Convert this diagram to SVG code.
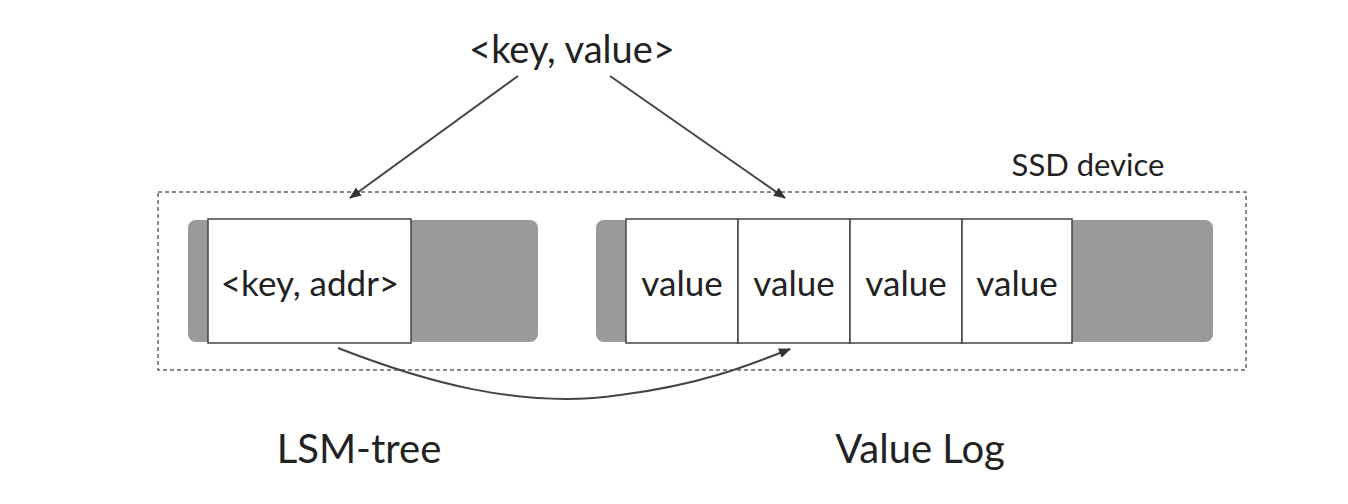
<svg xmlns="http://www.w3.org/2000/svg" width="1348" height="504" viewBox="0 0 1348 504">
<style>
text{font-family:Lato,"Liberation Sans",sans-serif;fill:#222;text-anchor:middle}
.g{fill:#9a9a9a}
.c{fill:#fff;stroke:#444;stroke-width:1.5}
.ln{stroke:#444;stroke-width:2;fill:none;marker-end:url(#a)}
</style>
<defs><marker id="a" markerWidth="12" markerHeight="10" refX="11" refY="5" orient="auto" markerUnits="userSpaceOnUse"><path d="M0,0L12,5L0,10z" fill="#333"/></marker></defs>
<rect width="1348" height="504" fill="#fff"/>
<g id="input"><text x="572" y="63" font-size="38">&lt;key, value&gt;</text></g>
<g id="ssd"><rect x="158" y="192" width="1088" height="178" fill="none" stroke="#666" stroke-width="1.5" stroke-dasharray="4,3"/><text x="1088" y="176" font-size="31">SSD device</text></g>
<g id="lsm"><rect class="g" x="188" y="220" width="350" height="122" rx="8"/><rect class="c" x="208" y="219" width="203" height="124"/><text x="310" y="296" font-size="35">&lt;key, addr&gt;</text><text x="359" y="463" font-size="40">LSM-tree</text></g>
<g id="vlog"><rect class="g" x="596" y="220" width="617" height="122" rx="8"/>
<rect class="c" x="626" y="219" width="112" height="124"/><rect class="c" x="738" y="219" width="112" height="124"/><rect class="c" x="850" y="219" width="112" height="124"/><rect class="c" x="962" y="219" width="110" height="124"/>
<text x="682" y="296" font-size="35">value</text><text x="794" y="296" font-size="35">value</text><text x="906" y="296" font-size="35">value</text><text x="1017" y="296" font-size="35">value</text>
<text x="920" y="463" font-size="40">Value Log</text></g>
<g id="connectors">
<path class="ln" d="M518,76L350,198"/>
<path class="ln" d="M610,76L785,198"/>
<path class="ln" d="M338,348C420,380 520,410 620,395 C700,385 750,365 790,349"/>
</g>
</svg>
